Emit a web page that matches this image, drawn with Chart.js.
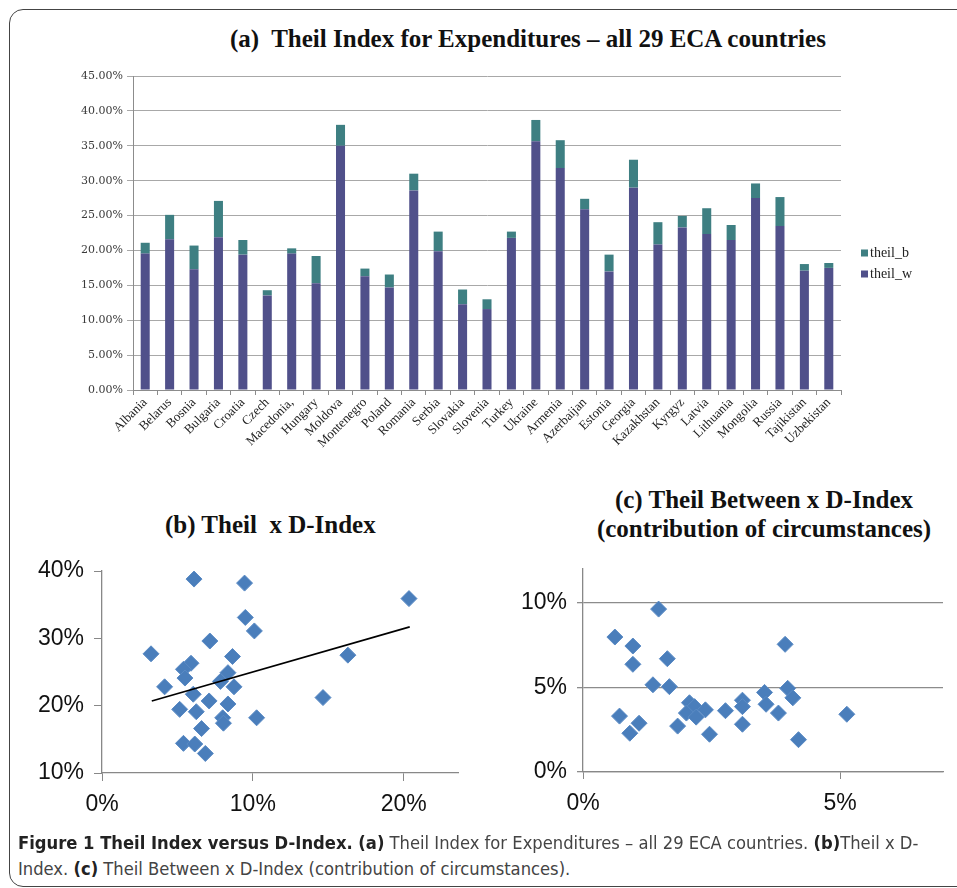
<!DOCTYPE html>
<html>
<head>
<meta charset="utf-8">
<script src="https://cdn.jsdelivr.net/npm/chart.js@4.4.0/dist/chart.umd.min.js"></script>
<style>
  body { margin: 0; background: #fff; width: 957px; height: 888px; overflow: hidden; position: relative; }
  .frame { position: absolute; left: 9px; top: 9px; width: 1000px; height: 876px; border: 1.5px solid #444; border-radius: 14px; }
  .ttl { position: absolute; font-family: "Liberation Serif", serif; font-weight: bold; font-size: 25px; color: #111; white-space: pre; line-height: 29px; }
  canvas { position: absolute; }
  .cap { position: absolute; left: 18px; font-family: "Liberation Sans Narrow", "DejaVu Sans Condensed", sans-serif; font-size: 18px; color: #444; white-space: pre; transform-origin: 0 50%; line-height: 22px; }
  .cap b { color: #222; }
</style>
</head>
<body>
<div class="frame"></div>
<div class="ttl" style="left:230px; top:24px;">(a)  Theil Index for Expenditures – all 29 ECA countries</div>
<div class="ttl" style="left:165px; top:510px;">(b) Theil  x D-Index</div>
<div class="ttl" style="left:564px; top:485px; width:400px; text-align:center;">(c) Theil Between x D-Index
(contribution of circumstances)</div>

<canvas id="chartA" width="957" height="400" style="left:0; top:60px;"></canvas>
<canvas id="chartB" width="480" height="290" style="left:0; top:545px;"></canvas>
<canvas id="chartC" width="477" height="290" style="left:480px; top:545px;"></canvas>

<div class="cap" id="cap1" style="top:832px;"><b>Figure 1 Theil Index versus D-Index. (a)</b> Theil Index for Expenditures – all 29 ECA countries. <b>(b)</b>Theil x D-</div>
<div class="cap" id="cap2" style="top:858px;">Index. <b>(c)</b> Theil Between x D-Index (contribution of circumstances).</div>

<script>
// (a) stacked bars, values in %
const countries = ['Albania', 'Belarus', 'Bosnia', 'Bulgaria', 'Croatia', 'Czech', 'Macedonia,', 'Hungary',
  'Moldova', 'Montenegro', 'Poland', 'Romania', 'Serbia', 'Slovakia', 'Slovenia', 'Turkey', 'Ukraine',
  'Armenia', 'Azerbaijan', 'Estonia', 'Georgia', 'Kazakhstan', 'Kyrgyz', 'Latvia', 'Lithuania',
  'Mongolia', 'Russia', 'Tajikistan', 'Uzbekistan'];
const theilW = [19.55, 21.6, 17.3, 21.9, 19.4, 13.55, 19.55, 15.3, 35.0, 16.3, 14.7, 28.6, 19.9, 12.3, 11.6,
  21.8, 35.65, 31.8, 25.9, 17.0, 29.0, 20.85, 23.3, 22.35, 21.5, 27.5, 23.5, 17.1, 17.5];
const theilB = [1.55, 3.5, 3.4, 5.2, 2.1, 0.75, 0.75, 3.9, 3.0, 1.1, 1.85, 2.4, 2.8, 2.1, 1.4,
  0.9, 3.05, 4.0, 1.5, 2.4, 4.0, 3.2, 1.65, 3.7, 2.15, 2.1, 4.15, 0.95, 0.7];
const yTicksA = [0, 5, 10, 15, 20, 25, 30, 35, 40, 45];

// (b) Theil x D-Index
const dIndexB = [6.1, 9.45, 20.35, 9.5, 10.1, 7.15, 3.25, 16.3, 8.65, 5.9, 5.4, 8.35, 5.5, 7.85, 4.15, 8.75,
  6.05, 14.65, 7.1, 8.35, 5.15, 6.25, 10.25, 8.0, 8.05, 6.6, 5.4, 6.15, 6.85];
const theilAll = [38.8, 38.2, 35.9, 33.1, 31.1, 29.6, 27.7, 27.5, 27.3, 26.3, 25.4, 24.9, 24.1, 23.6, 22.8, 22.8,
  21.7, 21.2, 20.7, 20.25, 19.45, 19.1, 18.2, 18.2, 17.4, 16.6, 14.4, 14.3, 12.9];
const trendX = [3.3, 20.4];
const trendY = [20.7, 31.7];
const xTicksB = [0, 10, 20];
const yTicksB = [10, 20, 30, 40];

// (c) Theil Between x D-Index
const dIndexC = [1.47, 0.62, 3.93, 0.97, 1.64, 0.97, 1.36, 1.68, 3.98, 3.53, 4.08, 3.1, 2.07, 3.56, 2.17, 3.1,
  2.38, 2.01, 2.77, 3.8, 5.13, 2.2, 0.71, 1.09, 3.1, 1.84, 0.91, 2.46, 4.19];
const theilBetween = [9.62, 7.97, 7.54, 7.44, 6.69, 6.36, 5.15, 5.04, 4.94, 4.7, 4.38, 4.24, 4.09, 4.0, 3.86, 3.86,
  3.67, 3.48, 3.62, 3.48, 3.41, 3.24, 3.3, 2.88, 2.82, 2.71, 2.29, 2.23, 1.91];
const xTicksC = [0, 5];
const yTicksC = [0, 5, 10];

Chart.defaults.animation = false;
Chart.defaults.responsive = false;
Chart.defaults.plugins.tooltip.enabled = false;

const setTicks = arr => scale => { scale.ticks = arr.map(v => ({ value: v })); };

const legendA = {
  id: 'legendA',
  afterDraw(chart) {
    const ctx = chart.ctx;
    const items = [chart.data.datasets[1], chart.data.datasets[0]];
    ctx.save();
    ctx.font = '14px "Liberation Serif"';
    ctx.textBaseline = 'middle';
    items.forEach((ds, i) => {
      const y = 193 + i * 21;
      ctx.fillStyle = ds.backgroundColor;
      ctx.fillRect(861, y - 3.5, 7, 7);
      ctx.fillStyle = '#222';
      ctx.fillText(ds.label, 870, y);
    });
    ctx.restore();
  }
};

new Chart(document.getElementById('chartA'), {
  type: 'bar',
  data: {
    labels: countries,
    datasets: [
      { label: 'theil_w', data: theilW, backgroundColor: '#50508a', barPercentage: 0.37, categoryPercentage: 1 },
      { label: 'theil_b', data: theilB, backgroundColor: '#3e7f82', barPercentage: 0.37, categoryPercentage: 1 }
    ]
  },
  options: {
    layout: { padding: { left: 0, right: 116, top: 16, bottom: 0 } },
    plugins: { legend: { display: false } },
    scales: {
      x: {
        stacked: true,
        afterFit: s => { s.height = 70; },
        grid: { drawOnChartArea: false, drawTicks: true, tickLength: 5, color: '#8c8c8c' },
        border: { color: '#8c8c8c' },
        ticks: { autoSkip: false, maxRotation: 45, minRotation: 45, padding: 0, color: '#222',
          font: { family: 'Liberation Serif', size: 13 } }
      },
      y: {
        stacked: true, min: 0, max: 45,
        afterFit: s => { s.width = 133; },
        afterBuildTicks: setTicks(yTicksA),
        grid: { color: '#a8a8a8', tickLength: 6 },
        border: { color: '#8c8c8c' },
        ticks: { padding: 4, color: '#3a3a3a', font: { family: 'DejaVu Serif', size: 11 },
          callback: v => v.toFixed(2) + '%' }
      }
    }
  },
  plugins: [legendA]
});

const pointStyle = {
  pointStyle: 'rectRot', pointRadius: 8, backgroundColor: '#4a7ebb', borderColor: '#5a8ac4', borderWidth: 1
};

new Chart(document.getElementById('chartB'), {
  type: 'scatter',
  data: {
    datasets: [
      Object.assign({ label: 'theil', data: dIndexB.map((x, i) => ({ x, y: theilAll[i] })), order: 1 }, pointStyle),
      { type: 'line', label: 'trend', data: trendX.map((x, i) => ({ x, y: trendY[i] })), borderColor: '#000',
        borderWidth: 1.6, pointRadius: 0, fill: false, order: 0 }
    ]
  },
  options: {
    layout: { padding: { left: 0, right: 22, top: 26, bottom: 0 } },
    plugins: { legend: { display: false } },
    scales: {
      x: {
        type: 'linear', min: 0, max: 23.6,
        afterFit: s => { s.height = 62; },
        afterBuildTicks: setTicks(xTicksB),
        grid: { drawOnChartArea: false, tickLength: 8, color: '#888' },
        border: { color: '#888', width: 1.3 },
        ticks: { padding: 10, color: '#111', font: { family: 'Liberation Sans', size: 23 }, callback: v => v + '%' }
      },
      y: {
        min: 10, max: 40,
        afterFit: s => { s.width = 102; },
        afterBuildTicks: setTicks(yTicksB),
        grid: { drawOnChartArea: false, tickLength: 8, color: '#888' },
        border: { color: '#888', width: 1.3 },
        ticks: { padding: 10, color: '#111', font: { family: 'Liberation Sans', size: 23 }, callback: v => v + '%' }
      }
    }
  }
});

new Chart(document.getElementById('chartC'), {
  type: 'scatter',
  data: {
    datasets: [
      Object.assign({ label: 'theil_b', data: dIndexC.map((x, i) => ({ x, y: theilBetween[i] })) }, pointStyle)
    ]
  },
  options: {
    layout: { padding: { left: 0, right: 14, top: 16, bottom: 0 } },
    plugins: { legend: { display: false } },
    scales: {
      x: {
        type: 'linear', min: 0, max: 7,
        afterFit: s => { s.height = 63; },
        afterBuildTicks: setTicks(xTicksC),
        grid: { drawOnChartArea: false, tickLength: 7, color: '#888' },
        border: { color: '#888', width: 1.3 },
        ticks: { padding: 11, color: '#111', font: { family: 'Liberation Sans', size: 23 }, callback: v => v + '%' }
      },
      y: {
        min: 0, max: 12,
        afterFit: s => { s.width = 103; },
        afterBuildTicks: setTicks(yTicksC),
        grid: { color: '#8c8c8c', tickLength: 6, lineWidth: 1.3 },
        border: { color: '#888', width: 1.3 },
        ticks: { padding: 10, color: '#111', font: { family: 'Liberation Sans', size: 23 }, callback: v => v + '%' }
      }
    }
  }
});

// fit the caption lines to the width they take in the figure
const cap1 = document.getElementById('cap1');
const cap2 = document.getElementById('cap2');
const k = 900 / cap1.offsetWidth;
cap1.style.transform = 'scaleX(' + k + ')';
cap2.style.transform = 'scaleX(' + k + ')';
</script>
</body>
</html>
